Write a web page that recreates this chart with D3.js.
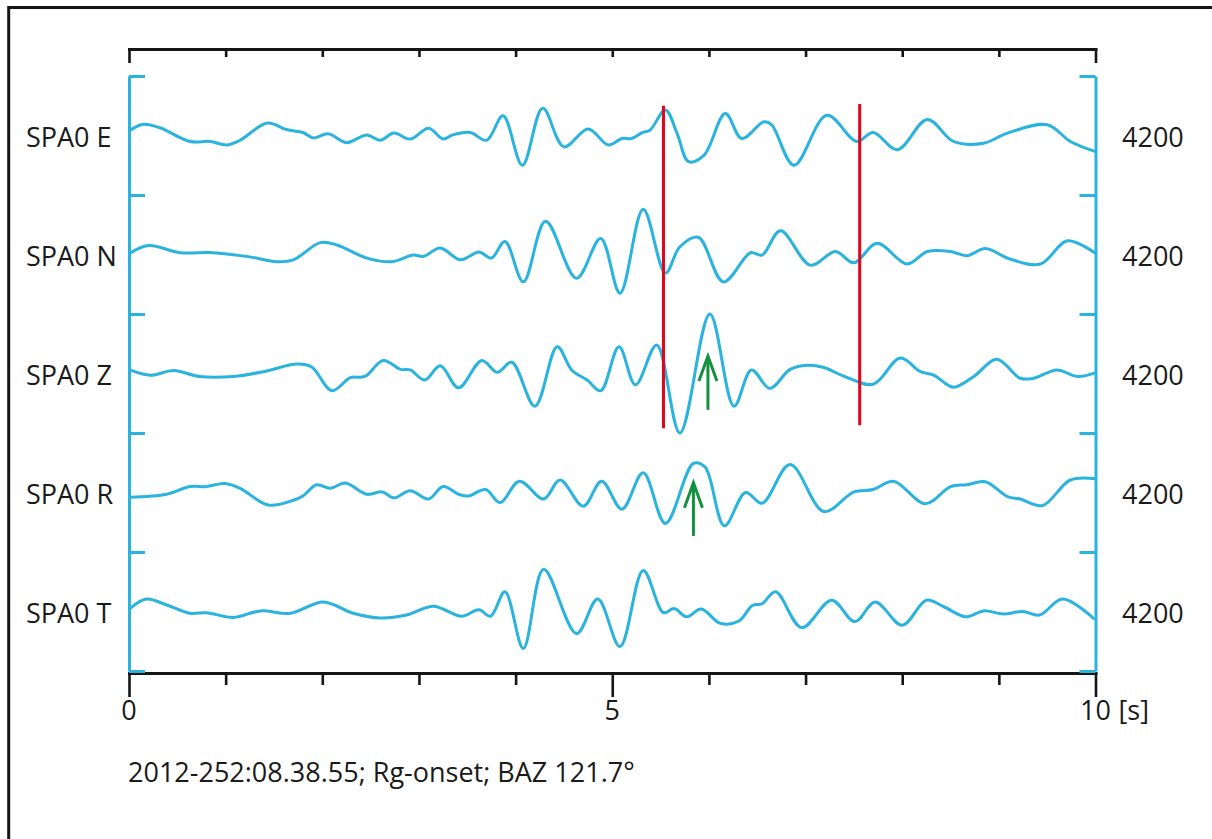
<!DOCTYPE html>
<html>
<head>
<meta charset="utf-8">
<script src="https://cdn.jsdelivr.net/npm/d3@7"></script>
<style>
  body { margin: 0; background: #fff; }
  svg { display: block; }
  text { font-family: "Open Sans", "Noto Sans", sans-serif; font-size: 27px; fill: #1a1a1a; }
</style>
</head>
<body>
<svg id="chart" width="1212" height="839"></svg>
<script>
// Station components, top to bottom
const traceNames = ["SPA0 E", "SPA0 N", "SPA0 Z", "SPA0 R", "SPA0 T"];
// Amplitude scale (counts) for each component
const scaleLabels = ["4200", "4200", "4200", "4200", "4200"];

// Seismogram samples: [time (s), amplitude normalised to the scale value]
const traceE = [[0.01,0.09],[0.15,0.19],[0.32,0.13],[0.63,-0.10],[0.84,-0.10],[1.01,-0.16],[1.15,-0.08],[1.43,0.21],[1.63,0.10],[1.80,0.05],[1.91,-0.04],[2.06,0.03],[2.25,-0.12],[2.46,0.01],[2.60,-0.08],[2.74,0.04],[2.91,-0.06],[3.10,0.12],[3.25,-0.06],[3.35,0.01],[3.53,0.05],[3.70,-0.08],[3.87,0.33],[4.07,-0.50],[4.28,0.46],[4.50,-0.19],[4.75,0.11],[4.96,-0.16],[5.10,-0.05],[5.20,-0.05],[5.31,0.05],[5.39,0.09],[5.55,0.43],[5.67,0.04],[5.79,-0.44],[5.95,-0.33],[6.17,0.37],[6.34,-0.05],[6.57,0.23],[6.65,0.18],[6.88,-0.50],[7.22,0.34],[7.53,-0.10],[7.70,0.05],[7.95,-0.24],[8.26,0.27],[8.53,-0.10],[8.84,-0.13],[9.09,0.04],[9.50,0.18],[9.74,-0.10],[10.0,-0.27]];
const traceN = [[0.01,0.02],[0.20,0.15],[0.53,0.03],[0.87,0.03],[1.25,-0.04],[1.53,-0.12],[1.70,-0.09],[1.98,0.20],[2.15,0.16],[2.46,-0.06],[2.72,-0.12],[2.94,-0.01],[3.05,-0.03],[3.22,0.11],[3.43,-0.09],[3.62,0.04],[3.75,-0.06],[3.89,0.22],[4.08,-0.46],[4.31,0.56],[4.63,-0.40],[4.88,0.27],[5.08,-0.65],[5.32,0.76],[5.55,-0.31],[5.70,0.13],[5.89,0.29],[6.15,-0.46],[6.43,0.03],[6.55,-0.01],[6.74,0.40],[7.05,-0.18],[7.31,0.05],[7.50,-0.14],[7.74,0.19],[8.05,-0.16],[8.26,0.05],[8.50,0.05],[8.67,-0.02],[8.86,0.10],[9.12,-0.08],[9.43,-0.16],[9.71,0.23],[10.0,0.02]];
const traceZ = [[0.01,0.06],[0.22,-0.03],[0.46,0.05],[0.73,-0.05],[1.08,-0.05],[1.39,0.03],[1.74,0.16],[1.89,0.11],[2.10,-0.29],[2.29,-0.07],[2.44,-0.05],[2.63,0.22],[2.81,0.07],[2.91,0.06],[3.06,-0.11],[3.22,0.13],[3.41,-0.24],[3.65,0.22],[3.81,0.02],[3.96,0.19],[4.20,-0.55],[4.43,0.45],[4.58,0.06],[4.74,-0.11],[4.88,-0.29],[5.07,0.45],[5.24,-0.19],[5.46,0.48],[5.70,-1.00],[6.01,1.00],[6.26,-0.55],[6.44,0.06],[6.63,-0.25],[6.84,0.07],[7.02,0.14],[7.19,0.10],[7.39,-0.04],[7.70,-0.18],[7.98,0.26],[8.19,0.03],[8.33,-0.03],[8.53,-0.23],[8.74,-0.05],[8.98,0.24],[9.22,-0.08],[9.36,-0.08],[9.60,0.06],[9.81,-0.05],[10.0,0.01]];
const traceR = [[0.01,-0.08],[0.39,-0.03],[0.63,0.10],[0.80,0.10],[0.99,0.15],[1.15,0.07],[1.44,-0.21],[1.70,-0.13],[1.80,-0.06],[1.94,0.13],[2.08,0.07],[2.24,0.16],[2.46,-0.03],[2.62,0.01],[2.74,-0.09],[2.91,0.03],[3.10,-0.11],[3.25,0.10],[3.41,-0.03],[3.51,-0.06],[3.69,0.05],[3.84,-0.17],[4.04,0.19],[4.29,-0.11],[4.46,0.21],[4.70,-0.23],[4.89,0.19],[5.10,-0.28],[5.32,0.33],[5.55,-0.52],[5.84,0.49],[5.96,0.43],[6.16,-0.56],[6.38,0.00],[6.55,-0.18],[6.84,0.47],[7.19,-0.32],[7.50,0.01],[7.70,0.05],[7.91,0.19],[8.24,-0.19],[8.50,0.10],[8.67,0.13],[8.86,0.18],[9.09,-0.07],[9.22,-0.11],[9.45,-0.22],[9.74,0.21],[10.0,0.23]];
const traceT = [[0.01,0.05],[0.18,0.21],[0.39,0.11],[0.63,-0.03],[0.80,-0.02],[1.08,-0.10],[1.36,0.01],[1.67,-0.03],[2.01,0.16],[2.32,-0.03],[2.60,-0.11],[2.87,-0.06],[3.15,0.09],[3.44,-0.08],[3.62,0.03],[3.74,-0.08],[3.89,0.33],[4.08,-0.62],[4.29,0.71],[4.63,-0.37],[4.85,0.21],[5.08,-0.59],[5.32,0.69],[5.53,-0.02],[5.64,0.05],[5.77,-0.09],[5.92,0.04],[6.12,-0.20],[6.31,-0.16],[6.45,0.10],[6.55,0.13],[6.69,0.33],[6.96,-0.27],[7.27,0.19],[7.51,-0.17],[7.72,0.16],[8.00,-0.23],[8.25,0.19],[8.43,0.08],[8.66,-0.09],[8.84,0.01],[9.05,-0.04],[9.25,0.00],[9.42,-0.06],[9.66,0.21],[9.99,-0.13]];
const traces = [traceE, traceN, traceZ, traceR, traceT];

// Phase picks (s) spanning E..Z, with their amplitude extents in the first/last band
const pickTimes = [5.53, 7.56];
const pickTopAmp = [0.50, 0.53];     // in SPA0 E band
const pickBottomAmp = [-0.92, -0.87]; // in SPA0 Z band

// Rg onset arrows
const onsetTrace = ["SPA0 Z", "SPA0 R"];
const onsetTime = [5.99, 5.84];
const onsetTail = [-0.61, -0.73];
const onsetTip = [0.31, 0.18];

// Time axis
const timeDomain = [0, 10];
const timeTickLabels = [0, 5, 10];
const timeUnit = "[s]";
const caption = "2012-252:08.38.55; Rg-onset; BAZ 121.7°";

const W = 1212, H = 839;
const BLUE = "#2ab3de", RED = "#e3051b", GREEN = "#14903e", INK = "#151515";

const svg = d3.select("#chart");

const x = d3.scaleLinear().domain(timeDomain).range([129, 1095.5]);
const band = d3.scaleBand().domain(traceNames).range([76, 671]);
const ampScale = name => d3.scaleLinear().domain([-1, 1])
  .range([band(name) + band.bandwidth(), band(name)]);

// outer frame (left and top edges)
svg.append("path")
  .attr("d", `M8.7,${H}V7.5H${W}`)
  .attr("fill", "none").attr("stroke", INK).attr("stroke-width", 3);

// top time ruler
const topAxis = svg.append("g")
  .attr("transform", "translate(0,49)")
  .call(d3.axisBottom(x).ticks(10).tickSize(8).tickSizeOuter(0).tickFormat(""));
topAxis.selectAll(".tick line")
  .attr("y2", d => (d === timeDomain[0] || d === timeDomain[1]) ? 14 : 8);

// bottom time axis
const botAxis = svg.append("g")
  .attr("transform", "translate(0,673)")
  .call(d3.axisBottom(x).ticks(10).tickSize(12).tickSizeOuter(0).tickFormat(""));
botAxis.selectAll(".tick line")
  .attr("y2", d => timeTickLabels.includes(d) ? 24 : 12);

[topAxis, botAxis].forEach(g => {
  g.select(".domain").attr("stroke", INK).attr("stroke-width", 3).attr("stroke-linecap", "square");
  g.selectAll(".tick line").attr("stroke", INK).attr("stroke-width", 2.6);
});

svg.append("g").selectAll("text")
  .data(timeTickLabels)
  .join("text")
  .attr("x", d => x(d)).attr("y", 720)
  .attr("text-anchor", "middle")
  .text(d => d);
svg.append("text")
  .attr("x", x(timeDomain[1]) + 23).attr("y", 720)
  .text(timeUnit);

// amplitude brackets on both sides
const yB = d3.scaleLinear().domain([0, traceNames.length]).range([76, 671]);
const leftAx = svg.append("g").attr("transform", `translate(${x(0)},0)`)
  .call(d3.axisRight(yB).ticks(traceNames.length).tickSize(16).tickSizeOuter(0).tickFormat(""));
const rightAx = svg.append("g").attr("transform", `translate(${x(10)},0)`)
  .call(d3.axisLeft(yB).ticks(traceNames.length).tickSize(16).tickSizeOuter(0).tickFormat(""));
[leftAx, rightAx].forEach(g => {
  g.select(".domain").attr("stroke", BLUE).attr("stroke-width", 3);
  g.selectAll(".tick line").attr("stroke", BLUE).attr("stroke-width", 3);
});

// seismograms
const line = d3.line().curve(d3.curveCatmullRom.alpha(0.5));
svg.append("g").selectAll("path")
  .data(traceNames)
  .join("path")
  .attr("d", (name, i) => {
    const y = ampScale(name);
    return line(traces[i].map(d => [x(d[0]), y(d[1])]));
  })
  .attr("fill", "none")
  .attr("stroke", BLUE)
  .attr("stroke-width", 3)
  .attr("stroke-linejoin", "round");

// phase picks
svg.append("g").selectAll("line")
  .data(pickTimes)
  .join("line")
  .attr("x1", d => x(d)).attr("x2", d => x(d))
  .attr("y1", (d, i) => ampScale(traceNames[0])(pickTopAmp[i]))
  .attr("y2", (d, i) => ampScale(traceNames[2])(pickBottomAmp[i]))
  .attr("stroke", RED).attr("stroke-width", 3);

// onset arrows
const arrows = svg.append("g").selectAll("g")
  .data(onsetTime)
  .join("g")
  .attr("stroke", GREEN).attr("stroke-width", 3).attr("fill", "none");
arrows.append("line")
  .attr("x1", d => x(d)).attr("x2", d => x(d))
  .attr("y1", (d, i) => ampScale(onsetTrace[i])(onsetTail[i]))
  .attr("y2", (d, i) => ampScale(onsetTrace[i])(onsetTip[i]) + 2);
arrows.append("path")
  .attr("d", (d, i) => {
    const px = x(d), py = ampScale(onsetTrace[i])(onsetTip[i]);
    return `M${px - 9},${py + 26}L${px},${py + 1}L${px + 9},${py + 26}`;
  });

// component names and scales
svg.append("g").selectAll("text")
  .data(traceNames)
  .join("text")
  .attr("x", 26)
  .attr("y", d => band(d) + band.bandwidth() / 2 + 11.5)
  .text(d => d);
svg.append("g").selectAll("text")
  .data(traceNames)
  .join("text")
  .attr("x", 1122)
  .attr("y", d => band(d) + band.bandwidth() / 2 + 11.5)
  .text((d, i) => scaleLabels[i]);

// event caption
svg.append("text")
  .attr("x", 128).attr("y", 782)
  .text(caption);
</script>
</body>
</html>
